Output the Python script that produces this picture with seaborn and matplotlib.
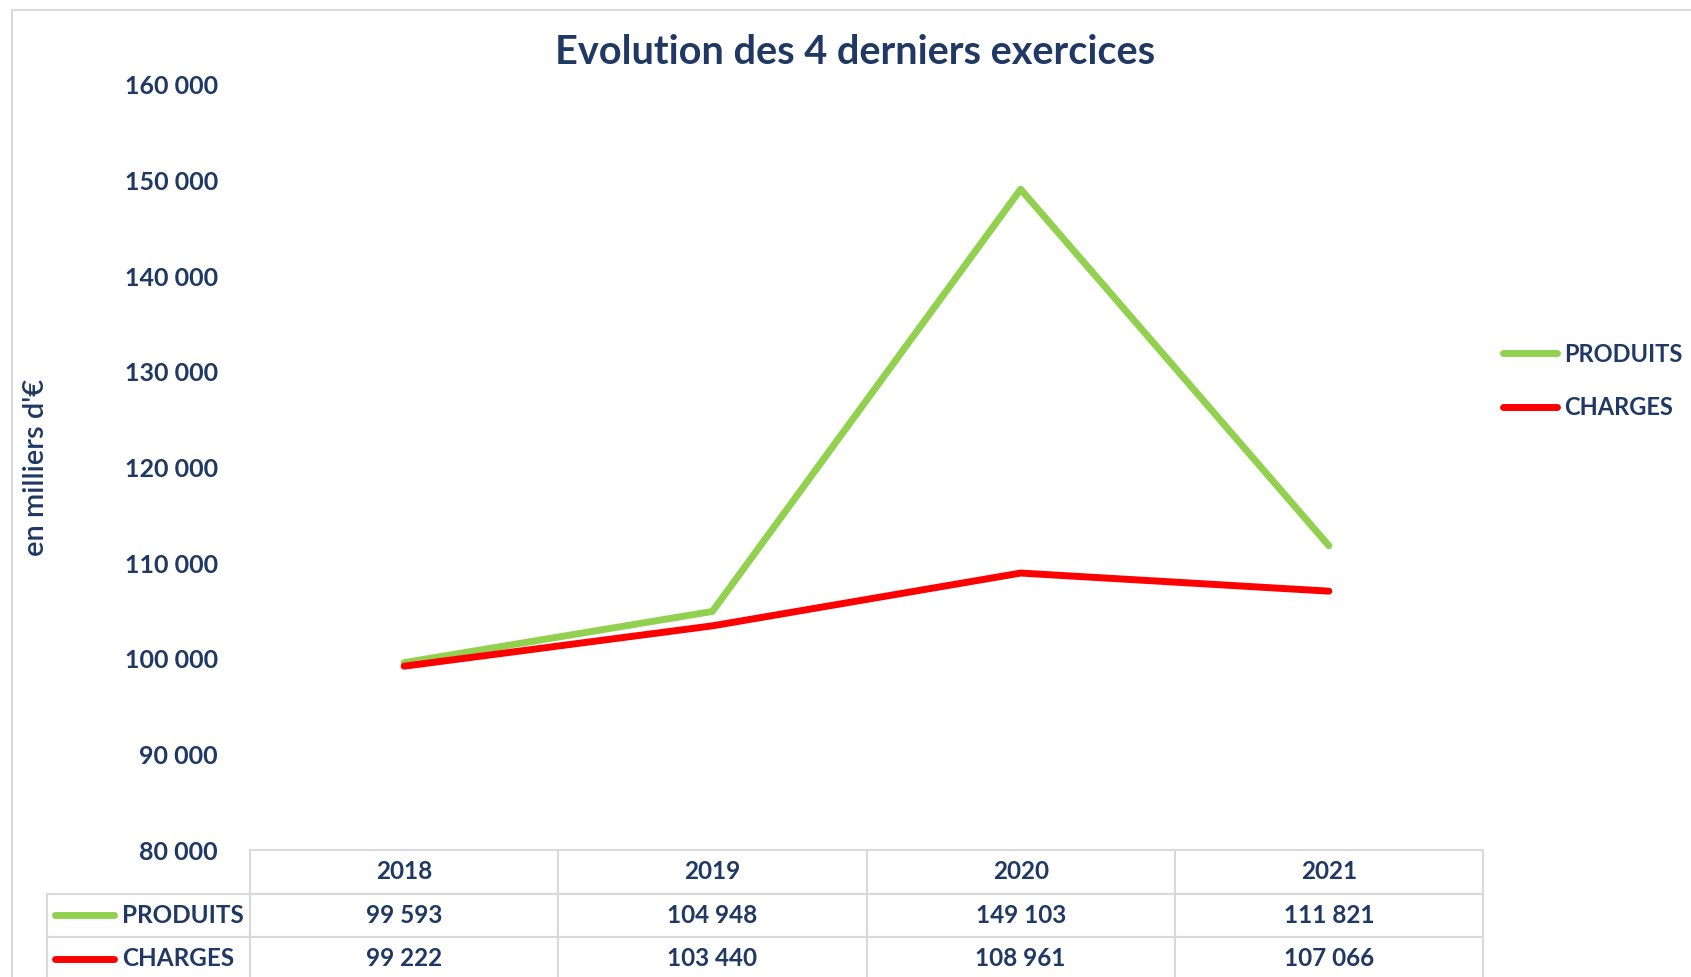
import matplotlib
matplotlib.use("Agg")
import matplotlib.pyplot as plt
from matplotlib.lines import Line2D
from matplotlib.patches import Rectangle
from matplotlib.ticker import FuncFormatter
import pandas as pd
import seaborn as sns

YEARS = ["2018", "2019", "2020", "2021"]
SERIES = ["PRODUITS", "CHARGES"]
PRODUITS = [99593, 104948, 149103, 111821]
CHARGES = [99222, 103440, 108961, 107066]
COLORS = {"PRODUITS": "#92D050", "CHARGES": "#FF0000"}
NAVY = "#1F3864"
GRID = "#D9D9D9"

sns.set_style("white")
plt.rcParams["font.family"] = ["Lato", "DejaVu Sans"]
plt.rcParams["font.weight"] = "bold"


def fmt(v):
    return f"{v:,.0f}".replace(",", " ")


df = pd.DataFrame({
    "year": YEARS * 2,
    "serie": [SERIES[0]] * 4 + [SERIES[1]] * 4,
    "value": PRODUITS + CHARGES,
})

W, H = 1691, 977
fig = plt.figure(figsize=(W / 100, H / 100), dpi=100)
fig.patch.set_facecolor("white")

# plot area (pixel box from the reference)
left, right, top, bottom = 250, 1483, 85, 850
ax = fig.add_axes([left / W, 1 - bottom / H, (right - left) / W, (bottom - top) / H])

sns.lineplot(data=df, x="year", y="value", hue="serie", hue_order=SERIES,
             palette=COLORS, linewidth=5, ax=ax, sort=False,
             solid_capstyle="round")

ax.set_xlim(-0.5, 3.5)
ax.set_ylim(80000, 160000)
ax.set_yticks(range(80000, 160001, 10000))
ax.yaxis.set_major_formatter(FuncFormatter(lambda v, p: fmt(v)))
ax.set_xticks([])
ax.set_xlabel("")
ax.tick_params(axis="y", length=0, pad=23, labelsize=18, labelcolor=NAVY)
for lab in ax.get_yticklabels():
    lab.set_fontweight("bold")
for s in ax.spines.values():
    s.set_visible(False)

ax.set_ylabel("en milliers d'€", fontsize=21, color=NAVY, fontweight="semibold")
ax.yaxis.set_label_coords(-0.163, 0.5)

# legend on the right
handles, labels = ax.get_legend_handles_labels()
ax.legend_.remove()
fig.legend(handles, labels, loc="center left",
           bbox_to_anchor=(1503 / W, 1 - 381 / H), frameon=False,
           borderpad=0, borderaxespad=0,
           handlelength=2.3, handletextpad=0.3, labelspacing=1.3,
           prop={"size": 17, "weight": "bold"}, labelcolor=NAVY)

# data table under the chart
lab_w, col_w = 203, 308
row_h = 43.5
tbl_h = 3 * row_h / (bottom - top)
x0 = -lab_w / (right - left)
cell_text = [[""] + YEARS,
             [SERIES[0]] + [fmt(v) for v in PRODUITS],
             [SERIES[1]] + [fmt(v) for v in CHARGES]]
tbl = ax.table(cellText=cell_text, cellLoc="center",
               colWidths=[lab_w] + [col_w] * 4,
               bbox=[x0, -tbl_h, 1 - x0, tbl_h])
tbl.auto_set_font_size(False)
for (r, c), cell in tbl.get_celld().items():
    cell.set_edgecolor(GRID)
    cell.set_linewidth(1.5)
    cell.get_text().set_fontsize(17.5)
    cell.get_text().set_color(NAVY)
    cell.get_text().set_fontweight("bold")
    if r == 0 and c == 0:
        cell.visible_edges = ""
    if c == 0 and r > 0:
        cell._loc = "left"
        cell.PAD = 0.37
        cell.get_text().set_ha("left")
tbl.set_clip_on(False)

# legend keys inside the table label cells
for i, name in enumerate(SERIES):
    yc = -tbl_h * (1.5 + i) / 3
    ax.add_line(Line2D([x0 + 8 / (right - left), x0 + 67 / (right - left)], [yc, yc],
                       transform=ax.transAxes, color=COLORS[name], lw=5,
                       solid_capstyle="round", clip_on=False))

fig.suptitle("Evolution des 4 derniers exercices", x=855 / W, y=1 - 53 / H,
             va="center", fontsize=28.5, color=NAVY, fontweight="bold")

# light chart border
fig.add_artist(Rectangle((12 / W, -0.1), 1.2, 1.1 - 10 / H, transform=fig.transFigure,
                         fill=False, edgecolor=GRID, lw=1.5))

fig.savefig("out.png", dpi=100)
